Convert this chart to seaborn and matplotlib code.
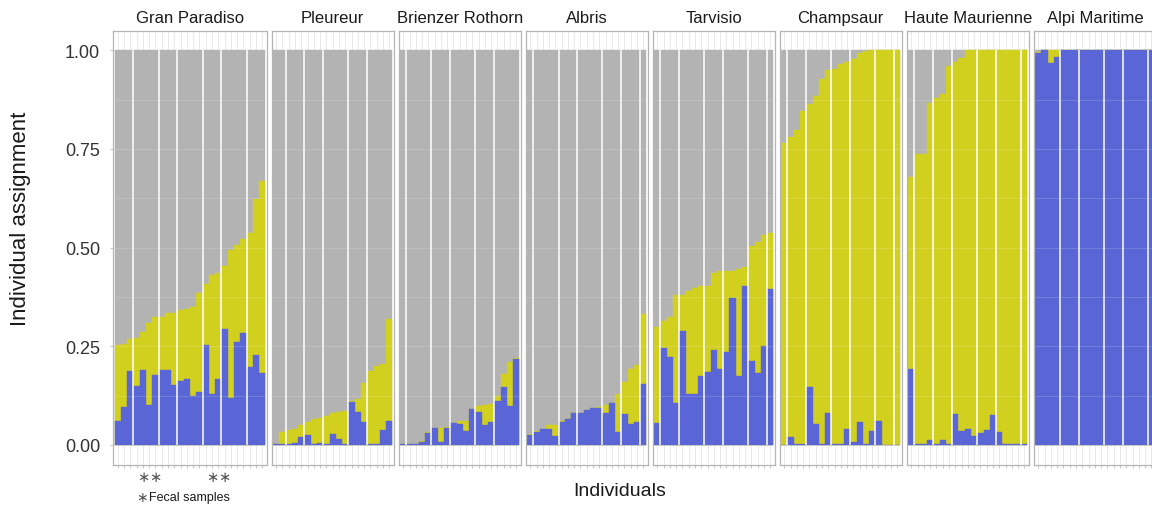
import numpy as np
import pandas as pd
import matplotlib
matplotlib.use("Agg")
import matplotlib.pyplot as plt
import matplotlib.transforms as mtransforms
import seaborn as sns

# ---------------- data ----------------
populations = ["Gran Paradiso", "Pleureur", "Brienzer Rothorn", "Albris",
               "Tarvisio", "Champsaur", "Haute Maurienne", "Alpi Maritime"]

blue_gran_paradiso = [0.061, 0.096, 0.187, 0.149, 0.189, 0.100, 0.176, 0.189, 0.189, 0.151, 0.162, 0.166,
                      0.124, 0.134, 0.252, 0.130, 0.168, 0.294, 0.118, 0.260, 0.283, 0.197, 0.227, 0.181]
yellow_gran_paradiso = [0.191, 0.159, 0.082, 0.123, 0.096, 0.210, 0.148, 0.135, 0.144, 0.184, 0.181, 0.179,
                        0.226, 0.252, 0.155, 0.300, 0.268, 0.158, 0.377, 0.247, 0.239, 0.340, 0.395, 0.487]

blue_pleureur = [0.002, 0.002, 0.002, 0.006, 0.020, 0.025, 0.002, 0.004, 0.002, 0.028, 0.014, 0.002,
                 0.108, 0.084, 0.058, 0.002, 0.002, 0.037, 0.060]
yellow_pleureur = [0.000, 0.031, 0.036, 0.035, 0.031, 0.033, 0.064, 0.064, 0.071, 0.053, 0.069, 0.084,
                   0.003, 0.032, 0.099, 0.185, 0.197, 0.167, 0.258]

blue_brienzer = [0.002, 0.002, 0.002, 0.008, 0.030, 0.042, 0.008, 0.042, 0.055, 0.052, 0.035, 0.090,
                 0.083, 0.051, 0.057, 0.111, 0.147, 0.099, 0.218]
yellow_brienzer = [0.000, 0.000, 0.000, 0.002, 0.002, 0.000, 0.034, 0.004, 0.000, 0.009, 0.026, 0.000,
                   0.015, 0.050, 0.046, 0.013, 0.032, 0.110, 0.001]

blue_albris = [0.025, 0.033, 0.040, 0.040, 0.023, 0.058, 0.066, 0.080, 0.080, 0.088, 0.093, 0.093,
               0.080, 0.105, 0.032, 0.078, 0.052, 0.057, 0.154]
yellow_albris = [0.002, 0.002, 0.000, 0.011, 0.028, 0.003, 0.000, 0.000, 0.002, 0.000, 0.000, 0.002,
                 0.021, 0.000, 0.096, 0.081, 0.140, 0.145, 0.177]

blue_tarvisio = [0.055, 0.245, 0.222, 0.105, 0.288, 0.128, 0.128, 0.174, 0.184, 0.240, 0.192, 0.235,
                 0.371, 0.174, 0.402, 0.212, 0.181, 0.250, 0.394]
yellow_tarvisio = [0.243, 0.069, 0.102, 0.274, 0.093, 0.261, 0.269, 0.228, 0.218, 0.196, 0.248, 0.205,
                   0.069, 0.272, 0.048, 0.292, 0.333, 0.281, 0.142]

blue_champsaur = [0.000, 0.019, 0.002, 0.002, 0.146, 0.052, 0.002, 0.080, 0.002, 0.002, 0.040, 0.007,
                  0.057, 0.002, 0.035, 0.060, 0.000, 0.000, 0.000]
yellow_champsaur = [0.765, 0.762, 0.795, 0.845, 0.719, 0.833, 0.925, 0.871, 0.951, 0.962, 0.930, 0.972,
                    0.937, 0.997, 0.965, 0.940, 1.000, 1.000, 1.000]

blue_haute_maurienne = [0.192, 0.002, 0.002, 0.012, 0.002, 0.012, 0.002, 0.078, 0.035, 0.040, 0.022, 0.030,
                        0.037, 0.075, 0.032, 0.002, 0.002, 0.002, 0.002]
yellow_haute_maurienne = [0.486, 0.734, 0.736, 0.854, 0.878, 0.876, 0.957, 0.891, 0.946, 0.960, 0.978, 0.970,
                          0.963, 0.925, 0.968, 0.998, 0.998, 0.998, 0.998]

blue_alpi_maritime = [0.993, 1.000, 0.967, 0.982, 1.000, 1.000, 1.000, 1.000, 1.000, 1.000, 1.000, 1.000,
                      1.000, 1.000, 1.000, 1.000, 1.000, 1.000, 1.000]
yellow_alpi_maritime = [0.003, 0.000, 0.033, 0.018, 0.000, 0.000, 0.000, 0.000, 0.000, 0.000, 0.000, 0.000,
                        0.000, 0.000, 0.000, 0.000, 0.000, 0.000, 0.000]

# white separator lines: number of individuals to the left of each line
separators_gran_paradiso = [3, 7, 10, 14, 17, 21]
separators_pleureur = [2, 5, 8, 12, 15]
separators_brienzer = [1, 5, 8, 12, 15]
separators_albris = [1, 5, 8, 12, 15, 18]
separators_tarvisio = [1, 4, 8, 11, 15, 18]
separators_champsaur = [1, 4, 8, 11, 15, 18]
separators_haute_maurienne = [1, 4, 7, 11, 14, 18]
separators_alpi_maritime = [4, 7, 11, 14, 18]

fecal_samples_gran_paradiso = [4, 6, 15, 17]   # 0-based individual index

y_ticks = [0.0, 0.25, 0.5, 0.75, 1.0]
y_tick_labels = ["0.00", "0.25", "0.50", "0.75", "1.00"]

blues = [blue_gran_paradiso, blue_pleureur, blue_brienzer, blue_albris, blue_tarvisio,
         blue_champsaur, blue_haute_maurienne, blue_alpi_maritime]
yellows = [yellow_gran_paradiso, yellow_pleureur, yellow_brienzer, yellow_albris, yellow_tarvisio,
           yellow_champsaur, yellow_haute_maurienne, yellow_alpi_maritime]
separators = [separators_gran_paradiso, separators_pleureur, separators_brienzer, separators_albris,
              separators_tarvisio, separators_champsaur, separators_haute_maurienne, separators_alpi_maritime]

# ---------------- style ----------------
BLUE = "#5A66D5"
YELLOW = "#D2D01F"
GREY = "#B3B3B3"
BORDER = "#B5B5B5"

sns.set_theme(style="white")
plt.rcParams['font.family'] = ['Liberation Sans', 'DejaVu Sans']

W, H = 1152, 506
fig = plt.figure(figsize=(W / 100, H / 100), dpi=100)

bar_px = 6.28
pad_px = 1.35
gap_px = 5.0
left_px = 113.3
top_px = 31.5
bot_px = 465.6
ylo, yhi = -0.05, 1.05

x_px = left_px
axes = []
for k, pop in enumerate(populations):
    blue = np.array(blues[k])
    yellow = np.array(yellows[k])
    n = len(blue)
    wpx = n * bar_px + 2 * pad_px
    ax = fig.add_axes([x_px / W, 1 - bot_px / H, wpx / W, (bot_px - top_px) / H])
    axes.append(ax)

    df = pd.DataFrame({"ind": np.arange(n), "blue": blue,
                       "cum": blue + yellow, "total": np.ones(n)})
    for col, c in [("total", GREY), ("cum", YELLOW), ("blue", BLUE)]:
        sns.barplot(data=df, x="ind", y=col, color=c, width=1.0, saturation=1,
                    edgecolor=c, linewidth=0.3, errorbar=None, ax=ax, zorder=2)

    pad_units = pad_px / bar_px
    ax.set_xlim(-0.5 - pad_units, n - 0.5 + pad_units)
    ax.set_ylim(ylo, yhi)
    ax.set_xlabel("")
    ax.set_ylabel("")

    ax.set_xticks(np.arange(n))
    ax.set_xticklabels([])
    ax.grid(axis="x", color="#E6E6E6", linewidth=0.6, zorder=0)
    ax.grid(axis="y", visible=False)
    ax.set_axisbelow(True)
    ax.tick_params(axis="x", bottom=True, length=2.5, width=0.5, color="#B0B0B0", pad=0)

    # faint grid showing through the bars
    ax.hlines(np.arange(0.125, 1.0, 0.125), -0.5, n - 0.5, color="white",
              alpha=0.18, linewidth=0.6, zorder=3)
    # white separators
    ax.vlines(np.array(separators[k]) - 0.5, 0, 1, color="white", linewidth=1.1, zorder=4)

    for s in ax.spines.values():
        s.set_color(BORDER)
        s.set_linewidth(0.9)

    if k == 0:
        ax.set_yticks(y_ticks)
        ax.set_yticklabels(y_tick_labels, fontsize=13, color="#333333")
        ax.tick_params(axis="y", left=True, length=2.5, width=0.5, color="#B0B0B0", pad=7)
    else:
        ax.set_yticks([])

    cx = (x_px + wpx / 2) / W
    fig.text(cx, 1 - 23 / H, pop, ha="center", va="baseline", fontsize=12, color="#1A1A1A")

    x_px += wpx + gap_px

# fecal sample markers
ax0 = axes[0]
trans = mtransforms.blended_transform_factory(ax0.transData, fig.transFigure)
for i in fecal_samples_gran_paradiso:
    ax0.text(i, 1 - 477.5 / H, "\u2217", transform=trans, ha="center", va="center",
             fontsize=10.5, color="#555555", family=["DejaVu Sans"])

fig.text(141.7 / W, 1 - 498 / H, "\u2217", ha="center", va="center", fontsize=10,
         color="#555555", family=["DejaVu Sans"])
fig.text(149 / W, 1 - 498 / H, "Fecal samples", ha="left", va="center", fontsize=9, color="#1A1A1A")

fig.text(21 / W, 1 - 219 / H, "Individual assignment", rotation=90, ha="center", va="center",
         fontsize=16, color="#1A1A1A")
fig.text(620 / W, 1 - 492 / H, "Individuals", ha="center", va="center", fontsize=14, color="#1A1A1A")

fig.savefig("out.png", dpi=100)
